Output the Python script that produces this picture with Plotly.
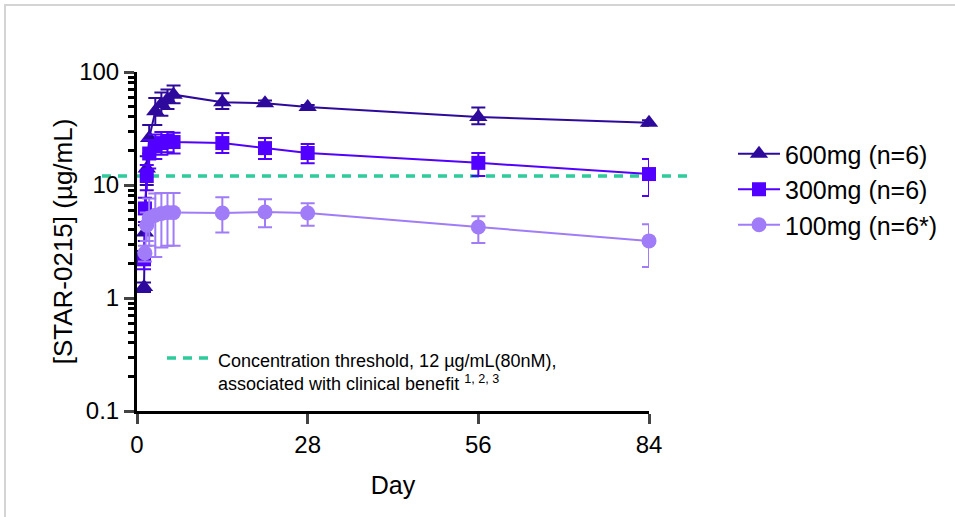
import plotly.graph_objects as go

# ---- data ----
days = [1.15, 1.3, 1.6, 2, 3, 4, 5, 6, 14, 21, 28, 56, 84]

mg600 = [1.25, 3.8, 14, 26, 45, 52, 57, 63, 54, 53, 49, 40, 35.5]
mg600_up = [0.12, 0.6, 4, 8, 14, 14, 13, 13, 11, 3, 2, 8.5, 2]
mg600_dn = [0.12, 0.6, 4, 7, 11, 11, 10, 10, 7, 3, 2, 5.5, 2]

mg300 = [2.2, 6.2, 12, 19, 22, 23.5, 24.5, 24, 23.5, 21.2, 19.2, 15.7, 12.5]
mg300_up = [0.4, 1.5, 3, 6, 6, 6, 5, 5, 5.3, 4.8, 3.8, 3.5, 4.5]
mg300_dn = [0.4, 1.5, 3, 5, 5, 5, 5, 5, 4.3, 4.2, 3.6, 3.7, 4.5]

mg100 = [None, 2.5, 4.4, 5.1, 5.4, 5.6, 5.7, 5.7, 5.65, 5.77, 5.65, 4.25, 3.2]
mg100_up = [None, 0.4, 1.3, 2.5, 3.0, 2.9, 2.8, 2.8, 2.15, 1.7, 1.25, 1.05, 1.3]
mg100_dn = [None, 0.4, 1.2, 2.2, 3.1, 2.8, 2.8, 2.8, 1.85, 1.55, 1.3, 1.18, 1.32]

series_names = ["600mg (n=6)", "300mg (n=6)", "100mg (n=6*)"]
threshold = 12
x_ticks = [0, 28, 56, 84]
y_ticks = [0.1, 1, 10, 100]
y_ticktext = ["0.1", "1", "10", "100"]

# ---- styling ----
FONT = "Liberation Sans, Arial, sans-serif"
c600 = "#2E0A9C"
c300 = "#5200FF"
c100 = "#A07CF8"
cthr = "#2ECC9A"

# plot area in pixels
W, H = 955, 517
L, R, T, B = 137, 649, 72, 411
pw, ph = R - L, B - T


def px_x(p):
    return (p - L) / pw


def px_y(p):
    return (B - p) / ph


fig = go.Figure()


def add(y, up, dn, name, color, symbol, size):
    fig.add_trace(go.Scatter(
        x=days, y=y, name=name, mode="lines+markers",
        line=dict(color=color, width=2),
        marker=dict(symbol=symbol, size=size, color=color),
        error_y=dict(type="data", symmetric=False, array=up, arrayminus=dn,
                     color=color, thickness=2, width=7),
        cliponaxis=False, legendgroup=name,
    ))


add(mg600, mg600_up, mg600_dn, series_names[0], c600, "triangle-up", 16)
add(mg300, mg300_up, mg300_dn, series_names[1], c300, "square", 14)
add(mg100, mg100_up, mg100_dn, series_names[2], c100, "circle", 15)

shapes = [
    # threshold line
    dict(type="line", xref="paper", yref="y", x0=px_x(102), x1=px_x(690),
         y0=threshold, y1=threshold, line=dict(color=cthr, width=3.5, dash="9px,7px"),
         layer="below"),
    # threshold key in the note
    dict(type="line", xref="paper", yref="paper", x0=px_x(167), x1=px_x(208),
         y0=px_y(358), y1=px_y(358), line=dict(color=cthr, width=3.5, dash="9px,7px")),
    # card border
    dict(type="rect", xref="paper", yref="paper", x0=px_x(5), x1=px_x(990),
         y0=px_y(540), y1=px_y(5), line=dict(color="#d4d4d4", width=2), layer="below"),
]

fig.update_layout(
    width=W, height=H,
    margin=dict(l=L, r=W - R, t=T, b=H - B),
    paper_bgcolor="white", plot_bgcolor="white",
    font=dict(family=FONT, size=24, color="black"),
    showlegend=True,
    legend=dict(x=px_x(733), y=px_y(131), xanchor="left", yanchor="top",
                font=dict(size=25), itemwidth=42, tracegroupgap=0,
                bgcolor="rgba(0,0,0,0)"),
    shapes=shapes,
    annotations=[dict(
        xref="paper", yref="paper", x=px_x(216), y=px_y(372), xanchor="left", yanchor="middle",
        align="left", showarrow=False, font=dict(size=18, family=FONT),
        text="Concentration threshold, 12 µg/mL(80nM),<br>associated with clinical benefit <sup>1, 2, 3</sup>",
    )],
    xaxis=dict(range=[0, 84], tickvals=x_ticks, ticks="outside", ticklen=10, tickwidth=3,
               showline=True, linewidth=3, linecolor="black", showgrid=False, zeroline=False,
               title=dict(text="Day", font=dict(size=25), standoff=20),
               tickfont=dict(size=24)),
    yaxis=dict(type="log", range=[-1, 2], tickvals=y_ticks, ticktext=y_ticktext,
               ticks="outside", ticklen=10, tickwidth=3,
               minor=dict(ticks="outside", ticklen=6, tickwidth=2.5, dtick="D1", tickcolor="black"),
               showline=True, linewidth=3, linecolor="black", showgrid=False, zeroline=False,
               title=dict(text="[STAR-0215] (µg/mL)", font=dict(size=26), standoff=0),
               tickfont=dict(size=24)),
)

fig.write_html("out.html", config={"displayModeBar": False},
               post_script="document.body.style.margin='0px';")
